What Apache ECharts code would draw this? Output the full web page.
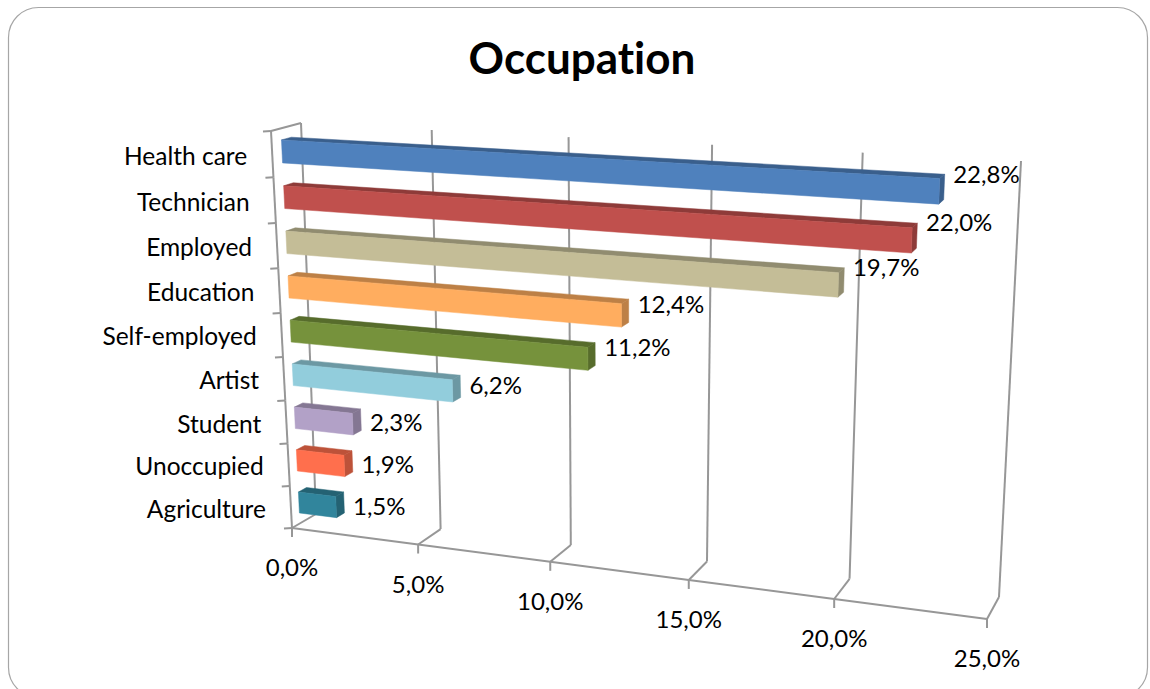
<!DOCTYPE html>
<html><head><meta charset="utf-8">
<style>html,body{margin:0;padding:0;background:#fff}#c{width:1150px;height:689px}svg text{font-variant-ligatures:none}</style>
<script src="https://cdn.jsdelivr.net/npm/echarts@6/dist/echarts.min.js"></script>
</head><body><div id="c"></div>
<script>
var categories = ['Health care','Technician','Employed','Education','Self-employed','Artist','Student','Unoccupied','Agriculture'];
var values = [22.8,22.0,19.7,12.4,11.2,6.2,2.3,1.9,1.5];
var barColors = ['#4F81BD','#C0504D','#C4BD97','#FFAD5F','#76923C','#92CDDC','#B2A1C7','#FF6F4D','#31859C'];
var valueTicks = [0,5,10,15,20,25];
var FONT = 'Lato, "Open Sans", sans-serif';
var AXIS = '#979797';

// Perspective planes of the 3D box: corners TL, TR, BR, BL
var frontPlane = [[271,131],[1008,174],[987,619],[292,528]];
var backPlane  = [[301,123],[1021,161],[999,597],[316,514]];
var depthFront = 0.33, depthBack = 0.66, barGap = 0.25;

function homography(q){
  var x0=q[0][0],y0=q[0][1],x1=q[1][0],y1=q[1][1],x2=q[2][0],y2=q[2][1],x3=q[3][0],y3=q[3][1];
  var dx1=x1-x2,dx2=x3-x2,sx=x0-x1+x2-x3,dy1=y1-y2,dy2=y3-y2,sy=y0-y1+y2-y3;
  var den=dx1*dy2-dx2*dy1,g=(sx*dy2-dx2*sy)/den,h=(dx1*sy-sx*dy1)/den;
  var a=x1-x0+g*x1,b=x3-x0+h*x3,d=y1-y0+g*y1,e=y3-y0+h*y3;
  return function(u,v){var w=g*u+h*v+1;return [(a*u+b*v+x0)/w,(d*u+e*v+y0)/w];};
}
var Hf=homography(frontPlane),Hb=homography(backPlane);

// Take the library's axis scales to a projected 3D point. cat is a band position (0..n), depth 0..1
function projector(api){
  var o=api.coord([valueTicks[0],0]), e=api.coord([valueTicks[valueTicks.length-1],0]);
  var n=categories.length;
  return function(val,cat,depth){
    var px=api.coord([val,0])[0];
    var u=(px-o[0])/(e[0]-o[0]), v=cat/n;
    var f=Hf(u,v),b=Hb(u,v);
    return [f[0]+(b[0]-f[0])*depth,f[1]+(b[1]-f[1])*depth];
  };
}
function shade(hex,k){
  var c=echarts.color.parse(hex);
  return 'rgb('+Math.round(c[0]*k)+','+Math.round(c[1]*k)+','+Math.round(c[2]*k)+')';
}
function poly(pts,fill){return {type:'polygon',shape:{points:pts},style:{fill:fill,stroke:fill,lineWidth:0.5}};}
function seg(a,b){return {type:'line',shape:{x1:a[0],y1:a[1],x2:b[0],y2:b[1]},style:{stroke:AXIS,lineWidth:2,fill:null}};}
function txt(x,y,s,align,size,fw){return {type:'text',style:{x:x,y:y,text:s,fill:'#000',align:align,verticalAlign:'middle',font:(fw||'normal')+' '+size+'px '+FONT}};}
function pct(v){return v.toFixed(1).replace('.',',')+'%';}

var n=categories.length;
function renderFrameValue(params,api){
  var P=projector(api),v=api.value(0),kids=[];
  var f=P(v,n,0),bk=P(v,n,1),t=P(v,0,1);
  kids.push(seg(bk,t),seg(f,bk),seg(f,[f[0],f[1]+9]));
  if(params.dataIndex<valueTicks.length-1) kids.push(seg(f,P(valueTicks[params.dataIndex+1],n,0)));
  kids.push(txt(f[0],f[1]+38.5,pct(v),'center',24));
  return {type:'group',children:kids};
}
function renderFrameCat(params,api){
  var P=projector(api),i=params.dataIndex,kids=[];
  var a=P(0,i,0),b=P(0,i+1,0),c=P(0,i+0.5,0);
  kids.push(seg(a,b),seg(a,[a[0]-8,a[1]+0.5]));
  if(i===n-1) kids.push(seg(b,[b[0]-8,b[1]+0.5]));
  if(i===0) kids.push(seg(a,P(0,0,1)));
  kids.push(txt(c[0]-25,c[1]+1,categories[i],'right',24.5));
  return {type:'group',children:kids};
}
function renderBar(params,api){
  var P=projector(api),i=params.dataIndex,v=api.value(0);
  var t=i+barGap,b=i+1-barGap,z0=depthFront,z1=depthBack;
  var col=barColors[i],dark=shade(col,0.74);
  var kids=[
    poly([P(0,t,z0),P(v,t,z0),P(v,t,z1),P(0,t,z1)],dark),
    poly([P(v,t,z0),P(v,b,z0),P(v,b,z1),P(v,t,z1)],dark),
    poly([P(0,t,z0),P(v,t,z0),P(v,b,z0),P(0,b,z0)],col)
  ];
  var l=P(0,i+0.5,z0),r=P(v,i+0.5,z1);
  kids.push(txt(r[0]+9,l[1]+0.55*(r[1]-l[1])+3,pct(v),'left',24));
  return {type:'group',children:kids};
}
var chart=echarts.init(document.getElementById('c'),null,{renderer:'svg'});
chart.setOption({
  animation:false,
  backgroundColor:'#fff',
  title:{text:'Occupation',left:577,top:30,textAlign:'center',textStyle:{fontFamily:FONT,fontSize:44,fontWeight:'bold',color:'#000'}},
  graphic:[{type:'rect',z:-1,silent:true,shape:{x:8.5,y:7.5,width:1139,height:690,r:30},style:{fill:'#fff',stroke:'#A6A6A6',lineWidth:1.2}}],
  grid:{left:100,right:100,top:100,bottom:100},
  xAxis:{type:'value',min:0,max:25,interval:5,show:false},
  yAxis:{type:'category',data:categories,inverse:true,show:false},
  series:[
    {type:'custom',silent:true,z:1,coordinateSystem:'cartesian2d',renderItem:renderFrameValue,encode:{x:0,y:1},data:valueTicks.map(function(v){return [v,0];})},
    {type:'custom',silent:true,z:1,coordinateSystem:'cartesian2d',renderItem:renderFrameCat,encode:{x:0,y:1},data:categories.map(function(c,i){return [0,i];})},
    {type:'custom',silent:true,z:2,coordinateSystem:'cartesian2d',renderItem:renderBar,encode:{x:0,y:1},data:values.map(function(v,i){return [v,i];})}
  ]
});
</script></body></html>
